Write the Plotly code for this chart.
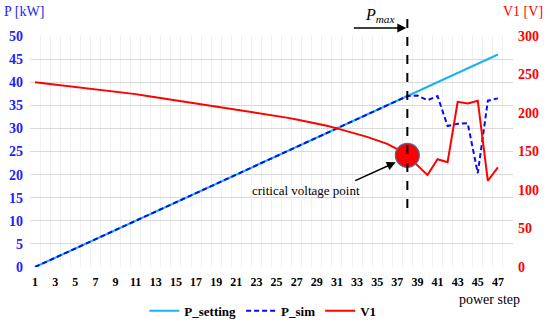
import plotly.graph_objects as go

steps = list(range(1, 48))
p_setting = [s - 1 for s in steps]
p_sim = [s - 1 for s in range(1, 39)] + [37.1, 36.1, 37.0, 30.5, 31.0, 31.1, 20.3, 36.0, 36.5]
v1 = [240, 238.5, 237, 235.5, 234, 232.5, 231, 229.5, 228, 226, 224.5, 222.5, 220.5,
      218.5, 216.5, 214.5, 213, 211, 209, 207, 205, 203, 201, 199, 196.5,
      194, 191.5, 189, 186.5, 183.5, 180, 176.5, 173, 169, 164.5, 160, 153, 145,
      132, 119.5, 140, 136, 214.5, 212.5, 216, 112, 129.5]
crit_step = 38
crit_v = 145
x_ticks = list(range(1, 48, 2))

BLUE = "#2323F5"
RED = "#FF0000"
FONT = "Liberation Serif"

fig = go.Figure()
fig.add_trace(go.Scatter(x=steps, y=p_setting, name="P_setting", mode="lines",
                         line=dict(color="#16B4F0", width=2)))
fig.add_trace(go.Scatter(x=steps, y=p_sim, name="P_sim", mode="lines",
                         line=dict(color="#0A0AF5", width=2, dash="5px,3px")))
fig.add_trace(go.Scatter(x=steps, y=v1, name="V1", mode="lines", yaxis="y2",
                         line=dict(color=RED, width=2)))
fig.add_trace(go.Scatter(x=[crit_step], y=[crit_v], mode="markers", yaxis="y2",
                         showlegend=False,
                         marker=dict(size=24, color=RED, line=dict(color="#41719C", width=1.2))))

fig.update_layout(
    width=550, height=322,
    margin=dict(l=30, r=37, t=36, b=55, autoexpand=False),
    plot_bgcolor="white", paper_bgcolor="white",
    font=dict(family=FONT, size=13, color="black"),
    xaxis=dict(range=[0.5, 48.5], tickmode="array", tickvals=x_ticks,
               ticktext=[str(t) for t in x_ticks], showgrid=False, zeroline=False,
               automargin=False,
               tickfont=dict(family=FONT, size=12, color="black", weight="bold"),
               ticks="", ticklabelstandoff=6,
               minor=dict(tick0=0.5, dtick=1, showgrid=True, gridcolor="#F0F0F0", gridwidth=1)),
    yaxis=dict(range=[0, 50], dtick=5, showgrid=True, gridcolor="#D9D9D9", gridwidth=1,
               zeroline=False, automargin=False,
               tickfont=dict(family=FONT, size=14, color=BLUE, weight="bold"),
               ticklabelstandoff=6),
    yaxis2=dict(range=[0, 300], dtick=50, overlaying="y", side="right", showgrid=False,
                zeroline=False, automargin=False,
                tickfont=dict(family=FONT, size=14, color=RED, weight="bold"),
                ticklabelstandoff=4),
    legend=dict(orientation="h", x=0.482, xanchor="center", y=-0.19, yanchor="middle",
                font=dict(family=FONT, size=13, color="black", weight="bold"),
                itemwidth=30, tracegroupgap=0),
    showlegend=True,
)

fig.add_shape(type="line", xref="x", yref="paper", x0=crit_step, x1=crit_step,
              y0=0.255, y1=1.09, line=dict(color="black", width=2, dash="dash"))

fig.add_annotation(xref="x", yref="paper", x=crit_step - 0.1, y=1.035, ax=-54, ay=0,
                   text="", showarrow=True, arrowhead=2, arrowsize=1.2, arrowwidth=1.5,
                   arrowcolor="black")
fig.add_annotation(xref="x", yref="paper", x=35.2, y=1.088, yanchor="middle",
                   text="<i>P</i><sub><i>max</i></sub>",
                   showarrow=False, font=dict(family=FONT, size=16, color="black"))

fig.add_annotation(xref="x", yref="y2", x=36.85, y=136, ax=-42, ay=19,
                   text="", showarrow=True, arrowhead=2, arrowsize=1.2, arrowwidth=1.5,
                   arrowcolor="black")
fig.add_annotation(xref="x", yref="paper", x=27.9, y=0.333, yanchor="middle",
                   text="critical voltage point",
                   showarrow=False, font=dict(family=FONT, size=13, color="black"))

fig.add_annotation(xref="paper", yref="paper", x=-0.058, y=1.105, xanchor="left",
                   yanchor="middle",
                   text="P [kW]", showarrow=False, font=dict(family=FONT, size=14, color=BLUE))
fig.add_annotation(xref="paper", yref="paper", x=1.066, y=1.105, xanchor="right",
                   yanchor="middle",
                   text="V1 [V]", showarrow=False, font=dict(family=FONT, size=14, color=RED))
fig.add_annotation(xref="paper", yref="paper", x=0.952, y=-0.14, xanchor="center",
                   yanchor="middle",
                   text="power step", showarrow=False, font=dict(family=FONT, size=14, color="black"))

fig.write_html("out.html", config={"displayModeBar": False},
               post_script="document.body.style.margin='0';document.body.style.padding='0';")
